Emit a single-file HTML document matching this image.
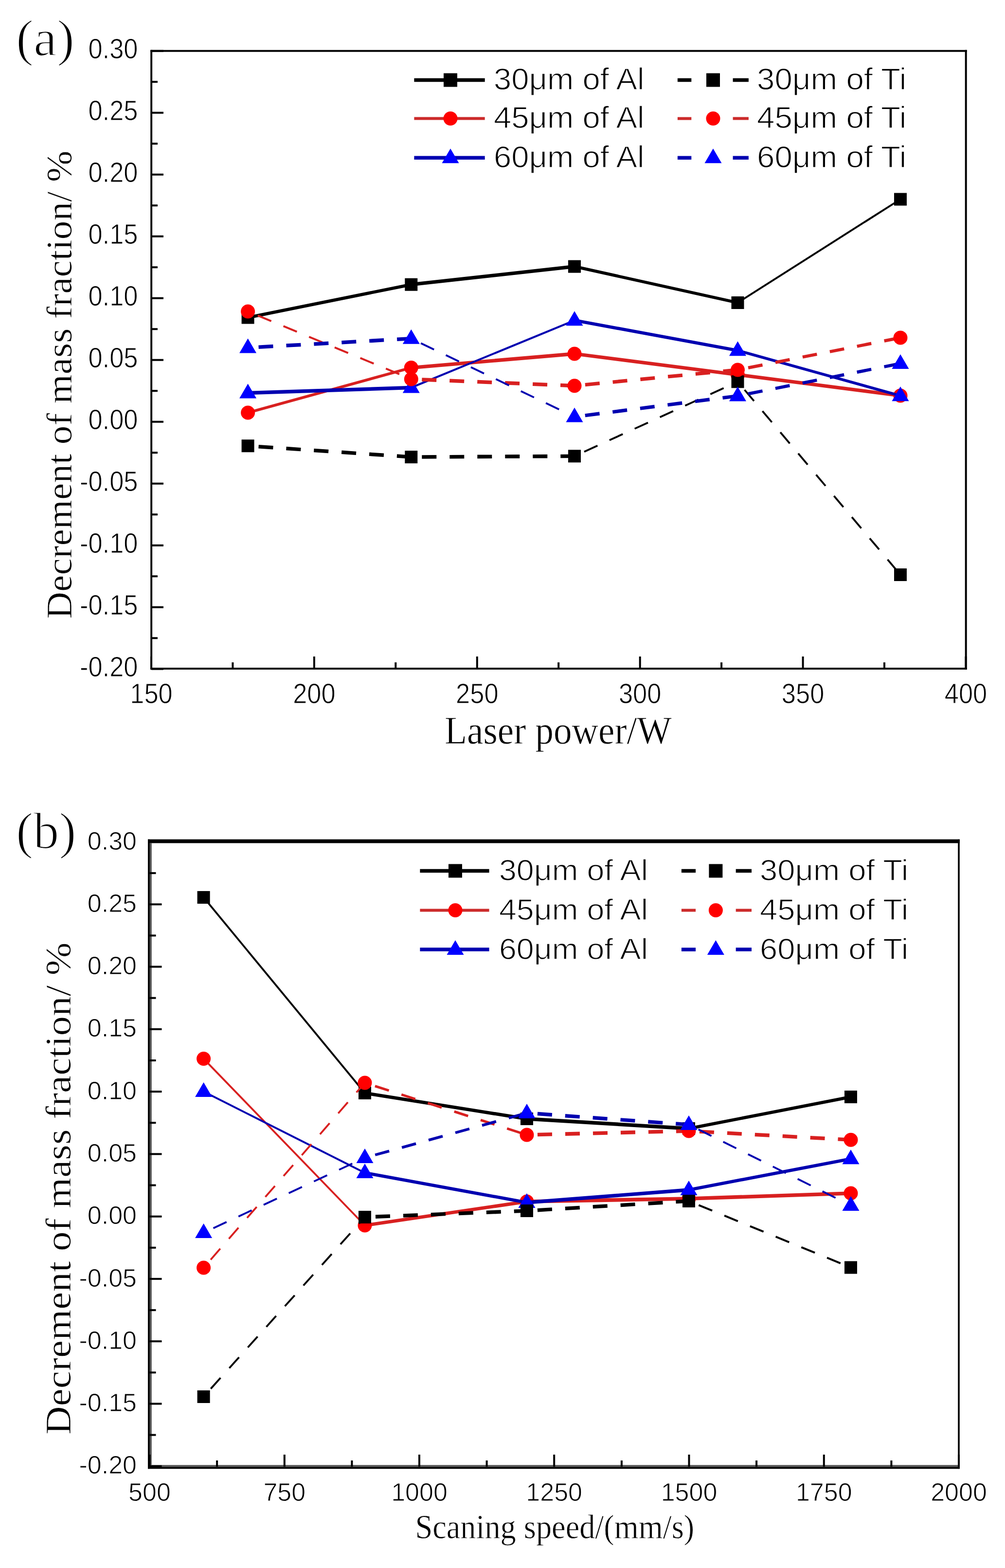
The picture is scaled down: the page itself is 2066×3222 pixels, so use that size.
<!DOCTYPE html>
<html><head><meta charset="utf-8"><title>Decrement of mass fraction</title><style>html,body{margin:0;padding:0;background:#fff;overflow:hidden}svg{display:block}</style></head><body>
<svg width="2066" height="3222" viewBox="0 0 2066 3222">
<rect width="2066" height="3222" fill="#fff"/>
<rect x="309.2" y="102.7" width="1678.5" height="3.9" fill="#000"/>
<rect x="309.2" y="102.7" width="3.9" height="1273.2" fill="#000"/>
<rect x="1983.7" y="102.7" width="4.0" height="1273.2" fill="#000"/>
<rect x="309.2" y="1372.0" width="1678.5" height="3.9" fill="#000"/>
<line x1="311.0" y1="104.7" x2="336.0" y2="104.7" stroke="#000" stroke-width="4" />
<text transform="translate(283.5,120.3) scale(0.92,1)" font-family='"Liberation Sans", Arial, sans-serif' font-size="57" text-anchor="end" stroke="#fff" stroke-width="1.0">0.30</text>
<line x1="311.0" y1="168.2" x2="324.0" y2="168.2" stroke="#000" stroke-width="4" />
<line x1="311.0" y1="231.7" x2="336.0" y2="231.7" stroke="#000" stroke-width="4" />
<text transform="translate(283.5,247.3) scale(0.92,1)" font-family='"Liberation Sans", Arial, sans-serif' font-size="57" text-anchor="end" stroke="#fff" stroke-width="1.0">0.25</text>
<line x1="311.0" y1="295.2" x2="324.0" y2="295.2" stroke="#000" stroke-width="4" />
<line x1="311.0" y1="358.7" x2="336.0" y2="358.7" stroke="#000" stroke-width="4" />
<text transform="translate(283.5,374.3) scale(0.92,1)" font-family='"Liberation Sans", Arial, sans-serif' font-size="57" text-anchor="end" stroke="#fff" stroke-width="1.0">0.20</text>
<line x1="311.0" y1="422.2" x2="324.0" y2="422.2" stroke="#000" stroke-width="4" />
<line x1="311.0" y1="485.7" x2="336.0" y2="485.7" stroke="#000" stroke-width="4" />
<text transform="translate(283.5,501.3) scale(0.92,1)" font-family='"Liberation Sans", Arial, sans-serif' font-size="57" text-anchor="end" stroke="#fff" stroke-width="1.0">0.15</text>
<line x1="311.0" y1="549.2" x2="324.0" y2="549.2" stroke="#000" stroke-width="4" />
<line x1="311.0" y1="612.7" x2="336.0" y2="612.7" stroke="#000" stroke-width="4" />
<text transform="translate(283.5,628.3) scale(0.92,1)" font-family='"Liberation Sans", Arial, sans-serif' font-size="57" text-anchor="end" stroke="#fff" stroke-width="1.0">0.10</text>
<line x1="311.0" y1="676.2" x2="324.0" y2="676.2" stroke="#000" stroke-width="4" />
<line x1="311.0" y1="739.7" x2="336.0" y2="739.7" stroke="#000" stroke-width="4" />
<text transform="translate(283.5,755.3) scale(0.92,1)" font-family='"Liberation Sans", Arial, sans-serif' font-size="57" text-anchor="end" stroke="#fff" stroke-width="1.0">0.05</text>
<line x1="311.0" y1="803.2" x2="324.0" y2="803.2" stroke="#000" stroke-width="4" />
<line x1="311.0" y1="866.7" x2="336.0" y2="866.7" stroke="#000" stroke-width="4" />
<text transform="translate(283.5,882.3) scale(0.92,1)" font-family='"Liberation Sans", Arial, sans-serif' font-size="57" text-anchor="end" stroke="#fff" stroke-width="1.0">0.00</text>
<line x1="311.0" y1="930.2" x2="324.0" y2="930.2" stroke="#000" stroke-width="4" />
<line x1="311.0" y1="993.7" x2="336.0" y2="993.7" stroke="#000" stroke-width="4" />
<text transform="translate(283.5,1009.3) scale(0.92,1)" font-family='"Liberation Sans", Arial, sans-serif' font-size="57" text-anchor="end" stroke="#fff" stroke-width="1.0">-0.05</text>
<line x1="311.0" y1="1057.2" x2="324.0" y2="1057.2" stroke="#000" stroke-width="4" />
<line x1="311.0" y1="1120.7" x2="336.0" y2="1120.7" stroke="#000" stroke-width="4" />
<text transform="translate(283.5,1136.3) scale(0.92,1)" font-family='"Liberation Sans", Arial, sans-serif' font-size="57" text-anchor="end" stroke="#fff" stroke-width="1.0">-0.10</text>
<line x1="311.0" y1="1184.2" x2="324.0" y2="1184.2" stroke="#000" stroke-width="4" />
<line x1="311.0" y1="1247.7" x2="336.0" y2="1247.7" stroke="#000" stroke-width="4" />
<text transform="translate(283.5,1263.3) scale(0.92,1)" font-family='"Liberation Sans", Arial, sans-serif' font-size="57" text-anchor="end" stroke="#fff" stroke-width="1.0">-0.15</text>
<line x1="311.0" y1="1311.2" x2="324.0" y2="1311.2" stroke="#000" stroke-width="4" />
<line x1="311.0" y1="1374.7" x2="336.0" y2="1374.7" stroke="#000" stroke-width="4" />
<text transform="translate(283.5,1390.3) scale(0.92,1)" font-family='"Liberation Sans", Arial, sans-serif' font-size="57" text-anchor="end" stroke="#fff" stroke-width="1.0">-0.20</text>
<line x1="311.0" y1="1374.0" x2="311.0" y2="1349.0" stroke="#000" stroke-width="4" />
<text transform="translate(311.0,1444.5) scale(0.92,1)" font-family='"Liberation Sans", Arial, sans-serif' font-size="57" text-anchor="middle" stroke="#fff" stroke-width="1.0">150</text>
<line x1="478.4" y1="1374.0" x2="478.4" y2="1361.0" stroke="#000" stroke-width="4" />
<line x1="645.9" y1="1374.0" x2="645.9" y2="1349.0" stroke="#000" stroke-width="4" />
<text transform="translate(645.9,1444.5) scale(0.92,1)" font-family='"Liberation Sans", Arial, sans-serif' font-size="57" text-anchor="middle" stroke="#fff" stroke-width="1.0">200</text>
<line x1="813.3" y1="1374.0" x2="813.3" y2="1361.0" stroke="#000" stroke-width="4" />
<line x1="980.8" y1="1374.0" x2="980.8" y2="1349.0" stroke="#000" stroke-width="4" />
<text transform="translate(980.8,1444.5) scale(0.92,1)" font-family='"Liberation Sans", Arial, sans-serif' font-size="57" text-anchor="middle" stroke="#fff" stroke-width="1.0">250</text>
<line x1="1148.2" y1="1374.0" x2="1148.2" y2="1361.0" stroke="#000" stroke-width="4" />
<line x1="1315.7" y1="1374.0" x2="1315.7" y2="1349.0" stroke="#000" stroke-width="4" />
<text transform="translate(1315.7,1444.5) scale(0.92,1)" font-family='"Liberation Sans", Arial, sans-serif' font-size="57" text-anchor="middle" stroke="#fff" stroke-width="1.0">300</text>
<line x1="1483.1" y1="1374.0" x2="1483.1" y2="1361.0" stroke="#000" stroke-width="4" />
<line x1="1650.6" y1="1374.0" x2="1650.6" y2="1349.0" stroke="#000" stroke-width="4" />
<text transform="translate(1650.6,1444.5) scale(0.92,1)" font-family='"Liberation Sans", Arial, sans-serif' font-size="57" text-anchor="middle" stroke="#fff" stroke-width="1.0">350</text>
<line x1="1818.0" y1="1374.0" x2="1818.0" y2="1361.0" stroke="#000" stroke-width="4" />
<line x1="1985.5" y1="1374.0" x2="1985.5" y2="1349.0" stroke="#000" stroke-width="4" />
<text transform="translate(1985.5,1444.5) scale(0.92,1)" font-family='"Liberation Sans", Arial, sans-serif' font-size="57" text-anchor="middle" stroke="#fff" stroke-width="1.0">400</text>
<rect x="304.0" y="1724.7" width="1668.8" height="7.8" fill="#000"/>
<rect x="304.0" y="1724.7" width="3.9" height="1293.5" fill="#000"/>
<rect x="307.9" y="1732.0" width="3.9" height="1278.4" fill="#555"/>
<rect x="1969.2" y="1724.7" width="3.6" height="1293.5" fill="#000"/>
<rect x="307.9" y="3010.4" width="1661.3" height="3.9" fill="#555"/>
<rect x="304.0" y="3014.3" width="1668.8" height="3.9" fill="#000"/>
<line x1="307.5" y1="1730.0" x2="332.5" y2="1730.0" stroke="#000" stroke-width="4" />
<text x="281.0" y="1745.6" font-family='"Liberation Sans", Arial, sans-serif' font-size="52" text-anchor="end" stroke="#fff" stroke-width="1.0">0.30</text>
<line x1="307.5" y1="1794.1" x2="320.5" y2="1794.1" stroke="#000" stroke-width="4" />
<line x1="307.5" y1="1858.3" x2="332.5" y2="1858.3" stroke="#000" stroke-width="4" />
<text x="281.0" y="1873.9" font-family='"Liberation Sans", Arial, sans-serif' font-size="52" text-anchor="end" stroke="#fff" stroke-width="1.0">0.25</text>
<line x1="307.5" y1="1922.4" x2="320.5" y2="1922.4" stroke="#000" stroke-width="4" />
<line x1="307.5" y1="1986.5" x2="332.5" y2="1986.5" stroke="#000" stroke-width="4" />
<text x="281.0" y="2002.1" font-family='"Liberation Sans", Arial, sans-serif' font-size="52" text-anchor="end" stroke="#fff" stroke-width="1.0">0.20</text>
<line x1="307.5" y1="2050.7" x2="320.5" y2="2050.7" stroke="#000" stroke-width="4" />
<line x1="307.5" y1="2114.8" x2="332.5" y2="2114.8" stroke="#000" stroke-width="4" />
<text x="281.0" y="2130.4" font-family='"Liberation Sans", Arial, sans-serif' font-size="52" text-anchor="end" stroke="#fff" stroke-width="1.0">0.15</text>
<line x1="307.5" y1="2179.0" x2="320.5" y2="2179.0" stroke="#000" stroke-width="4" />
<line x1="307.5" y1="2243.1" x2="332.5" y2="2243.1" stroke="#000" stroke-width="4" />
<text x="281.0" y="2258.7" font-family='"Liberation Sans", Arial, sans-serif' font-size="52" text-anchor="end" stroke="#fff" stroke-width="1.0">0.10</text>
<line x1="307.5" y1="2307.2" x2="320.5" y2="2307.2" stroke="#000" stroke-width="4" />
<line x1="307.5" y1="2371.4" x2="332.5" y2="2371.4" stroke="#000" stroke-width="4" />
<text x="281.0" y="2387.0" font-family='"Liberation Sans", Arial, sans-serif' font-size="52" text-anchor="end" stroke="#fff" stroke-width="1.0">0.05</text>
<line x1="307.5" y1="2435.5" x2="320.5" y2="2435.5" stroke="#000" stroke-width="4" />
<line x1="307.5" y1="2499.7" x2="332.5" y2="2499.7" stroke="#000" stroke-width="4" />
<text x="281.0" y="2515.2" font-family='"Liberation Sans", Arial, sans-serif' font-size="52" text-anchor="end" stroke="#fff" stroke-width="1.0">0.00</text>
<line x1="307.5" y1="2563.8" x2="320.5" y2="2563.8" stroke="#000" stroke-width="4" />
<line x1="307.5" y1="2627.9" x2="332.5" y2="2627.9" stroke="#000" stroke-width="4" />
<text x="281.0" y="2643.5" font-family='"Liberation Sans", Arial, sans-serif' font-size="52" text-anchor="end" stroke="#fff" stroke-width="1.0">-0.05</text>
<line x1="307.5" y1="2692.1" x2="320.5" y2="2692.1" stroke="#000" stroke-width="4" />
<line x1="307.5" y1="2756.2" x2="332.5" y2="2756.2" stroke="#000" stroke-width="4" />
<text x="281.0" y="2771.8" font-family='"Liberation Sans", Arial, sans-serif' font-size="52" text-anchor="end" stroke="#fff" stroke-width="1.0">-0.10</text>
<line x1="307.5" y1="2820.3" x2="320.5" y2="2820.3" stroke="#000" stroke-width="4" />
<line x1="307.5" y1="2884.5" x2="332.5" y2="2884.5" stroke="#000" stroke-width="4" />
<text x="281.0" y="2900.1" font-family='"Liberation Sans", Arial, sans-serif' font-size="52" text-anchor="end" stroke="#fff" stroke-width="1.0">-0.15</text>
<line x1="307.5" y1="2948.6" x2="320.5" y2="2948.6" stroke="#000" stroke-width="4" />
<line x1="307.5" y1="3012.8" x2="332.5" y2="3012.8" stroke="#000" stroke-width="4" />
<text x="281.0" y="3028.3" font-family='"Liberation Sans", Arial, sans-serif' font-size="52" text-anchor="end" stroke="#fff" stroke-width="1.0">-0.20</text>
<line x1="307.5" y1="3014.0" x2="307.5" y2="2989.0" stroke="#000" stroke-width="4" />
<text x="307.5" y="3084.0" font-family='"Liberation Sans", Arial, sans-serif' font-size="52" text-anchor="middle" stroke="#fff" stroke-width="1.0">500</text>
<line x1="446.1" y1="3014.0" x2="446.1" y2="3001.0" stroke="#000" stroke-width="4" />
<line x1="584.8" y1="3014.0" x2="584.8" y2="2989.0" stroke="#000" stroke-width="4" />
<text x="584.8" y="3084.0" font-family='"Liberation Sans", Arial, sans-serif' font-size="52" text-anchor="middle" stroke="#fff" stroke-width="1.0">750</text>
<line x1="723.4" y1="3014.0" x2="723.4" y2="3001.0" stroke="#000" stroke-width="4" />
<line x1="862.0" y1="3014.0" x2="862.0" y2="2989.0" stroke="#000" stroke-width="4" />
<text x="862.0" y="3084.0" font-family='"Liberation Sans", Arial, sans-serif' font-size="52" text-anchor="middle" stroke="#fff" stroke-width="1.0">1000</text>
<line x1="1000.6" y1="3014.0" x2="1000.6" y2="3001.0" stroke="#000" stroke-width="4" />
<line x1="1139.2" y1="3014.0" x2="1139.2" y2="2989.0" stroke="#000" stroke-width="4" />
<text x="1139.2" y="3084.0" font-family='"Liberation Sans", Arial, sans-serif' font-size="52" text-anchor="middle" stroke="#fff" stroke-width="1.0">1250</text>
<line x1="1277.9" y1="3014.0" x2="1277.9" y2="3001.0" stroke="#000" stroke-width="4" />
<line x1="1416.5" y1="3014.0" x2="1416.5" y2="2989.0" stroke="#000" stroke-width="4" />
<text x="1416.5" y="3084.0" font-family='"Liberation Sans", Arial, sans-serif' font-size="52" text-anchor="middle" stroke="#fff" stroke-width="1.0">1500</text>
<line x1="1555.1" y1="3014.0" x2="1555.1" y2="3001.0" stroke="#000" stroke-width="4" />
<line x1="1693.8" y1="3014.0" x2="1693.8" y2="2989.0" stroke="#000" stroke-width="4" />
<text x="1693.8" y="3084.0" font-family='"Liberation Sans", Arial, sans-serif' font-size="52" text-anchor="middle" stroke="#fff" stroke-width="1.0">1750</text>
<line x1="1832.4" y1="3014.0" x2="1832.4" y2="3001.0" stroke="#000" stroke-width="4" />
<line x1="1971.0" y1="3014.0" x2="1971.0" y2="2989.0" stroke="#000" stroke-width="4" />
<text x="1971.0" y="3084.0" font-family='"Liberation Sans", Arial, sans-serif' font-size="52" text-anchor="middle" stroke="#fff" stroke-width="1.0">2000</text>
<text transform="translate(33.0,113.5) scale(1.03,1)" font-family='"Liberation Serif", "Times New Roman", serif' font-size="105" text-anchor="start" stroke="#fff" stroke-width="2.2">(a)</text>
<text transform="translate(33.0,1743.0) scale(1.01,1)" font-family='"Liberation Serif", "Times New Roman", serif' font-size="105" text-anchor="start" stroke="#fff" stroke-width="2.2">(b)</text>
<text transform="translate(146.5,790.7) rotate(-90) scale(1.054,1)" font-family='"Liberation Serif", "Times New Roman", serif' font-size="73.4" text-anchor="middle" stroke="#fff" stroke-width="0.8">Decrement of mass fraction/ %</text>
<text transform="translate(145,2442.3) rotate(-90) scale(1.099,1)" font-family='"Liberation Serif", "Times New Roman", serif' font-size="74" text-anchor="middle" stroke="#fff" stroke-width="0.8">Decrement of mass fraction/ %</text>
<text transform="translate(1147.3,1528.0) scale(0.942,1)" font-family='"Liberation Serif", "Times New Roman", serif' font-size="80" text-anchor="middle" stroke="#fff" stroke-width="0.8">Laser power/W</text>
<text transform="translate(1140.3,3161.4) scale(0.926,1)" font-family='"Liberation Serif", "Times New Roman", serif' font-size="69.5" text-anchor="middle" stroke="#fff" stroke-width="0.8">Scaning speed/(mm/s)</text>
<line x1="509.6" y1="652.5" x2="845.3" y2="584.7" stroke="#000000" stroke-width="6.48" stroke-linecap="round" />
<line x1="845.3" y1="584.7" x2="1181.0" y2="547.6" stroke="#000000" stroke-width="7.24" stroke-linecap="round" />
<line x1="1181.0" y1="547.6" x2="1516.5" y2="622.0" stroke="#000000" stroke-width="6.27" stroke-linecap="round" />
<line x1="1516.5" y1="622.0" x2="1851.0" y2="409.5" stroke="#000000" stroke-width="3.80" stroke-linecap="round" />
<rect x="496.6" y="639.5" width="26" height="26" fill="#000000"/>
<rect x="832.3" y="571.7" width="26" height="26" fill="#000000"/>
<rect x="1168.0" y="534.6" width="26" height="26" fill="#000000"/>
<rect x="1503.5" y="609.0" width="26" height="26" fill="#000000"/>
<rect x="1838.0" y="396.5" width="26" height="26" fill="#000000"/>
<line x1="509.6" y1="848.0" x2="845.3" y2="755.6" stroke="#d82020" stroke-width="5.67" stroke-linecap="round" />
<line x1="845.3" y1="755.6" x2="1181.0" y2="727.0" stroke="#d82020" stroke-width="7.38" stroke-linecap="round" />
<line x1="1181.0" y1="727.0" x2="1516.5" y2="770.0" stroke="#d82020" stroke-width="7.12" stroke-linecap="round" />
<line x1="1516.5" y1="770.0" x2="1851.0" y2="813.0" stroke="#d82020" stroke-width="7.12" stroke-linecap="round" />
<circle cx="509.6" cy="848.0" r="14.5" fill="#ff0000"/>
<circle cx="845.3" cy="755.6" r="14.5" fill="#ff0000"/>
<circle cx="1181.0" cy="727.0" r="14.5" fill="#ff0000"/>
<circle cx="1516.5" cy="770.0" r="14.5" fill="#ff0000"/>
<circle cx="1851.0" cy="813.0" r="14.5" fill="#ff0000"/>
<line x1="509.6" y1="807.5" x2="845.3" y2="796.5" stroke="#0000b0" stroke-width="7.57" stroke-linecap="round" />
<line x1="845.3" y1="796.5" x2="1181.0" y2="658.3" stroke="#0000b0" stroke-width="4.06" stroke-linecap="round" />
<line x1="1181.0" y1="658.3" x2="1516.5" y2="720.2" stroke="#0000b0" stroke-width="6.65" stroke-linecap="round" />
<line x1="1516.5" y1="720.2" x2="1851.0" y2="813.3" stroke="#0000b0" stroke-width="5.64" stroke-linecap="round" />
<polygon points="509.6,788.5 527.1,818.5 492.1,818.5" fill="#0000ff"/>
<polygon points="845.3,777.5 862.8,807.5 827.8,807.5" fill="#0000ff"/>
<polygon points="1181.0,639.3 1198.5,669.3 1163.5,669.3" fill="#0000ff"/>
<polygon points="1516.5,701.2 1534.0,731.2 1499.0,731.2" fill="#0000ff"/>
<polygon points="1851.0,794.3 1868.5,824.3 1833.5,824.3" fill="#0000ff"/>
<line x1="509.6" y1="916.2" x2="845.3" y2="939.1" stroke="#000000" stroke-width="7.46" stroke-linecap="butt" stroke-dasharray="30 27" stroke-dashoffset="35"/>
<line x1="845.3" y1="939.1" x2="1181.0" y2="937.3" stroke="#000000" stroke-width="7.60" stroke-linecap="butt" stroke-dasharray="30 27" stroke-dashoffset="35"/>
<line x1="1181.0" y1="937.3" x2="1516.5" y2="784.3" stroke="#000000" stroke-width="3.80" stroke-linecap="butt" stroke-dasharray="30 27" stroke-dashoffset="35"/>
<line x1="1516.5" y1="784.3" x2="1851.0" y2="1181.0" stroke="#000000" stroke-width="3.80" stroke-linecap="butt" stroke-dasharray="30 27" stroke-dashoffset="35"/>
<rect x="496.6" y="903.2" width="26" height="26" fill="#000000"/>
<rect x="832.3" y="926.1" width="26" height="26" fill="#000000"/>
<rect x="1168.0" y="924.3" width="26" height="26" fill="#000000"/>
<rect x="1503.5" y="771.3" width="26" height="26" fill="#000000"/>
<rect x="1838.0" y="1168.0" width="26" height="26" fill="#000000"/>
<line x1="509.6" y1="640.0" x2="845.3" y2="779.0" stroke="#d82020" stroke-width="4.04" stroke-linecap="butt" stroke-dasharray="30 27" stroke-dashoffset="35"/>
<line x1="845.3" y1="779.0" x2="1181.0" y2="792.7" stroke="#d82020" stroke-width="7.55" stroke-linecap="butt" stroke-dasharray="30 27" stroke-dashoffset="35"/>
<line x1="1181.0" y1="792.7" x2="1516.5" y2="760.0" stroke="#d82020" stroke-width="7.32" stroke-linecap="butt" stroke-dasharray="30 27" stroke-dashoffset="35"/>
<line x1="1516.5" y1="760.0" x2="1851.0" y2="694.0" stroke="#d82020" stroke-width="6.52" stroke-linecap="butt" stroke-dasharray="30 27" stroke-dashoffset="35"/>
<circle cx="509.6" cy="640.0" r="14.5" fill="#ff0000"/>
<circle cx="845.3" cy="779.0" r="14.5" fill="#ff0000"/>
<circle cx="1181.0" cy="792.7" r="14.5" fill="#ff0000"/>
<circle cx="1516.5" cy="760.0" r="14.5" fill="#ff0000"/>
<circle cx="1851.0" cy="694.0" r="14.5" fill="#ff0000"/>
<line x1="509.6" y1="714.5" x2="845.3" y2="695.7" stroke="#0000b0" stroke-width="7.51" stroke-linecap="butt" stroke-dasharray="30 27" stroke-dashoffset="35"/>
<line x1="845.3" y1="695.7" x2="1181.0" y2="856.5" stroke="#0000b0" stroke-width="3.80" stroke-linecap="butt" stroke-dasharray="30 27" stroke-dashoffset="35"/>
<line x1="1181.0" y1="856.5" x2="1516.5" y2="813.5" stroke="#0000b0" stroke-width="7.12" stroke-linecap="butt" stroke-dasharray="30 27" stroke-dashoffset="35"/>
<line x1="1516.5" y1="813.5" x2="1851.0" y2="747.0" stroke="#0000b0" stroke-width="6.51" stroke-linecap="butt" stroke-dasharray="30 27" stroke-dashoffset="35"/>
<polygon points="509.6,695.5 527.1,725.5 492.1,725.5" fill="#0000ff"/>
<polygon points="845.3,676.7 862.8,706.7 827.8,706.7" fill="#0000ff"/>
<polygon points="1181.0,837.5 1198.5,867.5 1163.5,867.5" fill="#0000ff"/>
<polygon points="1516.5,794.5 1534.0,824.5 1499.0,824.5" fill="#0000ff"/>
<polygon points="1851.0,728.0 1868.5,758.0 1833.5,758.0" fill="#0000ff"/>
<line x1="418.6" y1="1844.0" x2="750.0" y2="2246.0" stroke="#000000" stroke-width="3.80" stroke-linecap="round" />
<line x1="750.0" y1="2246.0" x2="1083.0" y2="2299.0" stroke="#000000" stroke-width="6.88" stroke-linecap="round" />
<line x1="1083.0" y1="2299.0" x2="1416.0" y2="2319.0" stroke="#000000" stroke-width="7.49" stroke-linecap="round" />
<line x1="1416.0" y1="2319.0" x2="1749.0" y2="2254.0" stroke="#000000" stroke-width="6.54" stroke-linecap="round" />
<rect x="405.6" y="1831.0" width="26" height="26" fill="#000000"/>
<rect x="737.0" y="2233.0" width="26" height="26" fill="#000000"/>
<rect x="1070.0" y="2286.0" width="26" height="26" fill="#000000"/>
<rect x="1403.0" y="2306.0" width="26" height="26" fill="#000000"/>
<rect x="1736.0" y="2241.0" width="26" height="26" fill="#000000"/>
<line x1="418.6" y1="2175.6" x2="750.0" y2="2518.0" stroke="#d82020" stroke-width="3.80" stroke-linecap="round" />
<line x1="750.0" y1="2518.0" x2="1083.0" y2="2469.0" stroke="#d82020" stroke-width="6.98" stroke-linecap="round" />
<line x1="1083.0" y1="2469.0" x2="1416.0" y2="2463.0" stroke="#d82020" stroke-width="7.59" stroke-linecap="round" />
<line x1="1416.0" y1="2463.0" x2="1749.0" y2="2452.0" stroke="#d82020" stroke-width="7.57" stroke-linecap="round" />
<circle cx="418.6" cy="2175.6" r="14.5" fill="#ff0000"/>
<circle cx="750.0" cy="2518.0" r="14.5" fill="#ff0000"/>
<circle cx="1083.0" cy="2469.0" r="14.5" fill="#ff0000"/>
<circle cx="1416.0" cy="2463.0" r="14.5" fill="#ff0000"/>
<circle cx="1749.0" cy="2452.0" r="14.5" fill="#ff0000"/>
<line x1="418.6" y1="2243.0" x2="750.0" y2="2410.0" stroke="#0000b0" stroke-width="3.80" stroke-linecap="round" />
<line x1="750.0" y1="2410.0" x2="1083.0" y2="2471.0" stroke="#0000b0" stroke-width="6.66" stroke-linecap="round" />
<line x1="1083.0" y1="2471.0" x2="1416.0" y2="2445.0" stroke="#0000b0" stroke-width="7.42" stroke-linecap="round" />
<line x1="1416.0" y1="2445.0" x2="1749.0" y2="2381.3" stroke="#0000b0" stroke-width="6.58" stroke-linecap="round" />
<polygon points="418.6,2224.0 436.1,2254.0 401.1,2254.0" fill="#0000ff"/>
<polygon points="750.0,2391.0 767.5,2421.0 732.5,2421.0" fill="#0000ff"/>
<polygon points="1083.0,2452.0 1100.5,2482.0 1065.5,2482.0" fill="#0000ff"/>
<polygon points="1416.0,2426.0 1433.5,2456.0 1398.5,2456.0" fill="#0000ff"/>
<polygon points="1749.0,2362.3 1766.5,2392.3 1731.5,2392.3" fill="#0000ff"/>
<line x1="418.6" y1="2870.0" x2="750.0" y2="2501.0" stroke="#000000" stroke-width="3.80" stroke-linecap="butt" stroke-dasharray="30 27" stroke-dashoffset="35"/>
<line x1="750.0" y1="2501.0" x2="1083.0" y2="2488.0" stroke="#000000" stroke-width="7.55" stroke-linecap="butt" stroke-dasharray="30 27" stroke-dashoffset="35"/>
<line x1="1083.0" y1="2488.0" x2="1416.0" y2="2468.0" stroke="#000000" stroke-width="7.49" stroke-linecap="butt" stroke-dasharray="30 27" stroke-dashoffset="35"/>
<line x1="1416.0" y1="2468.0" x2="1749.0" y2="2604.5" stroke="#000000" stroke-width="4.08" stroke-linecap="butt" stroke-dasharray="30 27" stroke-dashoffset="35"/>
<rect x="405.6" y="2857.0" width="26" height="26" fill="#000000"/>
<rect x="737.0" y="2488.0" width="26" height="26" fill="#000000"/>
<rect x="1070.0" y="2475.0" width="26" height="26" fill="#000000"/>
<rect x="1403.0" y="2455.0" width="26" height="26" fill="#000000"/>
<rect x="1736.0" y="2591.5" width="26" height="26" fill="#000000"/>
<line x1="418.6" y1="2605.0" x2="750.0" y2="2225.0" stroke="#d82020" stroke-width="3.80" stroke-linecap="butt" stroke-dasharray="30 27" stroke-dashoffset="35"/>
<line x1="750.0" y1="2225.0" x2="1083.0" y2="2332.0" stroke="#d82020" stroke-width="5.13" stroke-linecap="butt" stroke-dasharray="30 27" stroke-dashoffset="35"/>
<line x1="1083.0" y1="2332.0" x2="1416.0" y2="2324.0" stroke="#d82020" stroke-width="7.58" stroke-linecap="butt" stroke-dasharray="30 27" stroke-dashoffset="35"/>
<line x1="1416.0" y1="2324.0" x2="1749.0" y2="2342.3" stroke="#d82020" stroke-width="7.51" stroke-linecap="butt" stroke-dasharray="30 27" stroke-dashoffset="35"/>
<circle cx="418.6" cy="2605.0" r="14.5" fill="#ff0000"/>
<circle cx="750.0" cy="2225.0" r="14.5" fill="#ff0000"/>
<circle cx="1083.0" cy="2332.0" r="14.5" fill="#ff0000"/>
<circle cx="1416.0" cy="2324.0" r="14.5" fill="#ff0000"/>
<circle cx="1749.0" cy="2342.3" r="14.5" fill="#ff0000"/>
<line x1="418.6" y1="2533.0" x2="750.0" y2="2379.0" stroke="#0000b0" stroke-width="3.80" stroke-linecap="butt" stroke-dasharray="30 27" stroke-dashoffset="35"/>
<line x1="750.0" y1="2379.0" x2="1083.0" y2="2287.0" stroke="#0000b0" stroke-width="5.66" stroke-linecap="butt" stroke-dasharray="30 27" stroke-dashoffset="35"/>
<line x1="1083.0" y1="2287.0" x2="1416.0" y2="2311.0" stroke="#0000b0" stroke-width="7.44" stroke-linecap="butt" stroke-dasharray="30 27" stroke-dashoffset="35"/>
<line x1="1416.0" y1="2311.0" x2="1749.0" y2="2477.0" stroke="#0000b0" stroke-width="3.80" stroke-linecap="butt" stroke-dasharray="30 27" stroke-dashoffset="35"/>
<polygon points="418.6,2514.0 436.1,2544.0 401.1,2544.0" fill="#0000ff"/>
<polygon points="750.0,2360.0 767.5,2390.0 732.5,2390.0" fill="#0000ff"/>
<polygon points="1083.0,2268.0 1100.5,2298.0 1065.5,2298.0" fill="#0000ff"/>
<polygon points="1416.0,2292.0 1433.5,2322.0 1398.5,2322.0" fill="#0000ff"/>
<polygon points="1749.0,2458.0 1766.5,2488.0 1731.5,2488.0" fill="#0000ff"/>
<line x1="851.4" y1="164.5" x2="996.7" y2="164.5" stroke="#000000" stroke-width="7.5" />
<rect x="912.0" y="150.5" width="28" height="28" fill="#000000"/>
<text transform="translate(1015.0,184.0) scale(1.035,1)" font-family='"Liberation Sans", Arial, sans-serif' font-size="63" text-anchor="start" stroke="#fff" stroke-width="1.4">30μm of Al</text>
<line x1="1392.9" y1="164.5" x2="1421.3" y2="164.5" stroke="#000000" stroke-width="7.5" />
<line x1="1506.6" y1="164.5" x2="1538.9" y2="164.5" stroke="#000000" stroke-width="7.5" />
<rect x="1452.0" y="150.5" width="28" height="28" fill="#000000"/>
<text transform="translate(1556.0,184.0) scale(1.04,1)" font-family='"Liberation Sans", Arial, sans-serif' font-size="63" text-anchor="start" stroke="#fff" stroke-width="1.4">30μm of Ti</text>
<line x1="851.4" y1="243.6" x2="996.7" y2="243.6" stroke="#cc2a2a" stroke-width="6" />
<circle cx="926.0" cy="243.6" r="14.5" fill="#ff0000"/>
<text transform="translate(1015.0,263.1) scale(1.035,1)" font-family='"Liberation Sans", Arial, sans-serif' font-size="63" text-anchor="start" stroke="#fff" stroke-width="1.4">45μm of Al</text>
<line x1="1392.9" y1="243.6" x2="1421.3" y2="243.6" stroke="#cc2a2a" stroke-width="6" />
<line x1="1506.6" y1="243.6" x2="1538.9" y2="243.6" stroke="#cc2a2a" stroke-width="6" />
<circle cx="1466.0" cy="243.6" r="14.5" fill="#ff0000"/>
<text transform="translate(1556.0,263.1) scale(1.04,1)" font-family='"Liberation Sans", Arial, sans-serif' font-size="63" text-anchor="start" stroke="#fff" stroke-width="1.4">45μm of Ti</text>
<line x1="851.4" y1="324.3" x2="996.7" y2="324.3" stroke="#0000b0" stroke-width="7.5" />
<polygon points="926.0,305.3 943.5,335.3 908.5,335.3" fill="#0000ff"/>
<text transform="translate(1015.0,343.8) scale(1.035,1)" font-family='"Liberation Sans", Arial, sans-serif' font-size="63" text-anchor="start" stroke="#fff" stroke-width="1.4">60μm of Al</text>
<line x1="1392.9" y1="324.3" x2="1421.3" y2="324.3" stroke="#0000b0" stroke-width="7.5" />
<line x1="1506.6" y1="324.3" x2="1538.9" y2="324.3" stroke="#0000b0" stroke-width="7.5" />
<polygon points="1466.0,305.3 1483.5,335.3 1448.5,335.3" fill="#0000ff"/>
<text transform="translate(1556.0,343.8) scale(1.04,1)" font-family='"Liberation Sans", Arial, sans-serif' font-size="63" text-anchor="start" stroke="#fff" stroke-width="1.4">60μm of Ti</text>
<line x1="863.4" y1="1789.5" x2="1005.6" y2="1789.5" stroke="#000000" stroke-width="7.5" />
<rect x="922.0" y="1775.5" width="28" height="28" fill="#000000"/>
<text transform="translate(1026.0,1809.0) scale(1.04,1)" font-family='"Liberation Sans", Arial, sans-serif' font-size="62" text-anchor="start" stroke="#fff" stroke-width="1.4">30μm of Al</text>
<line x1="1400.9" y1="1789.5" x2="1430.1" y2="1789.5" stroke="#000000" stroke-width="7.5" />
<line x1="1512.7" y1="1789.5" x2="1545.0" y2="1789.5" stroke="#000000" stroke-width="7.5" />
<rect x="1457.4" y="1775.5" width="28" height="28" fill="#000000"/>
<text transform="translate(1562.0,1809.0) scale(1.05,1)" font-family='"Liberation Sans", Arial, sans-serif' font-size="62" text-anchor="start" stroke="#fff" stroke-width="1.4">30μm of Ti</text>
<line x1="863.4" y1="1870.5" x2="1005.6" y2="1870.5" stroke="#cc2a2a" stroke-width="6" />
<circle cx="936.0" cy="1870.5" r="14.5" fill="#ff0000"/>
<text transform="translate(1026.0,1890.0) scale(1.04,1)" font-family='"Liberation Sans", Arial, sans-serif' font-size="62" text-anchor="start" stroke="#fff" stroke-width="1.4">45μm of Al</text>
<line x1="1400.9" y1="1870.5" x2="1430.1" y2="1870.5" stroke="#cc2a2a" stroke-width="6" />
<line x1="1512.7" y1="1870.5" x2="1545.0" y2="1870.5" stroke="#cc2a2a" stroke-width="6" />
<circle cx="1471.4" cy="1870.5" r="14.5" fill="#ff0000"/>
<text transform="translate(1562.0,1890.0) scale(1.05,1)" font-family='"Liberation Sans", Arial, sans-serif' font-size="62" text-anchor="start" stroke="#fff" stroke-width="1.4">45μm of Ti</text>
<line x1="863.4" y1="1951.1" x2="1005.6" y2="1951.1" stroke="#0000b0" stroke-width="7.5" />
<polygon points="936.0,1932.1 953.5,1962.1 918.5,1962.1" fill="#0000ff"/>
<text transform="translate(1026.0,1970.6) scale(1.04,1)" font-family='"Liberation Sans", Arial, sans-serif' font-size="62" text-anchor="start" stroke="#fff" stroke-width="1.4">60μm of Al</text>
<line x1="1400.9" y1="1951.1" x2="1430.1" y2="1951.1" stroke="#0000b0" stroke-width="7.5" />
<line x1="1512.7" y1="1951.1" x2="1545.0" y2="1951.1" stroke="#0000b0" stroke-width="7.5" />
<polygon points="1471.4,1932.1 1488.9,1962.1 1453.9,1962.1" fill="#0000ff"/>
<text transform="translate(1562.0,1970.6) scale(1.05,1)" font-family='"Liberation Sans", Arial, sans-serif' font-size="62" text-anchor="start" stroke="#fff" stroke-width="1.4">60μm of Ti</text>
</svg>
</body></html>
